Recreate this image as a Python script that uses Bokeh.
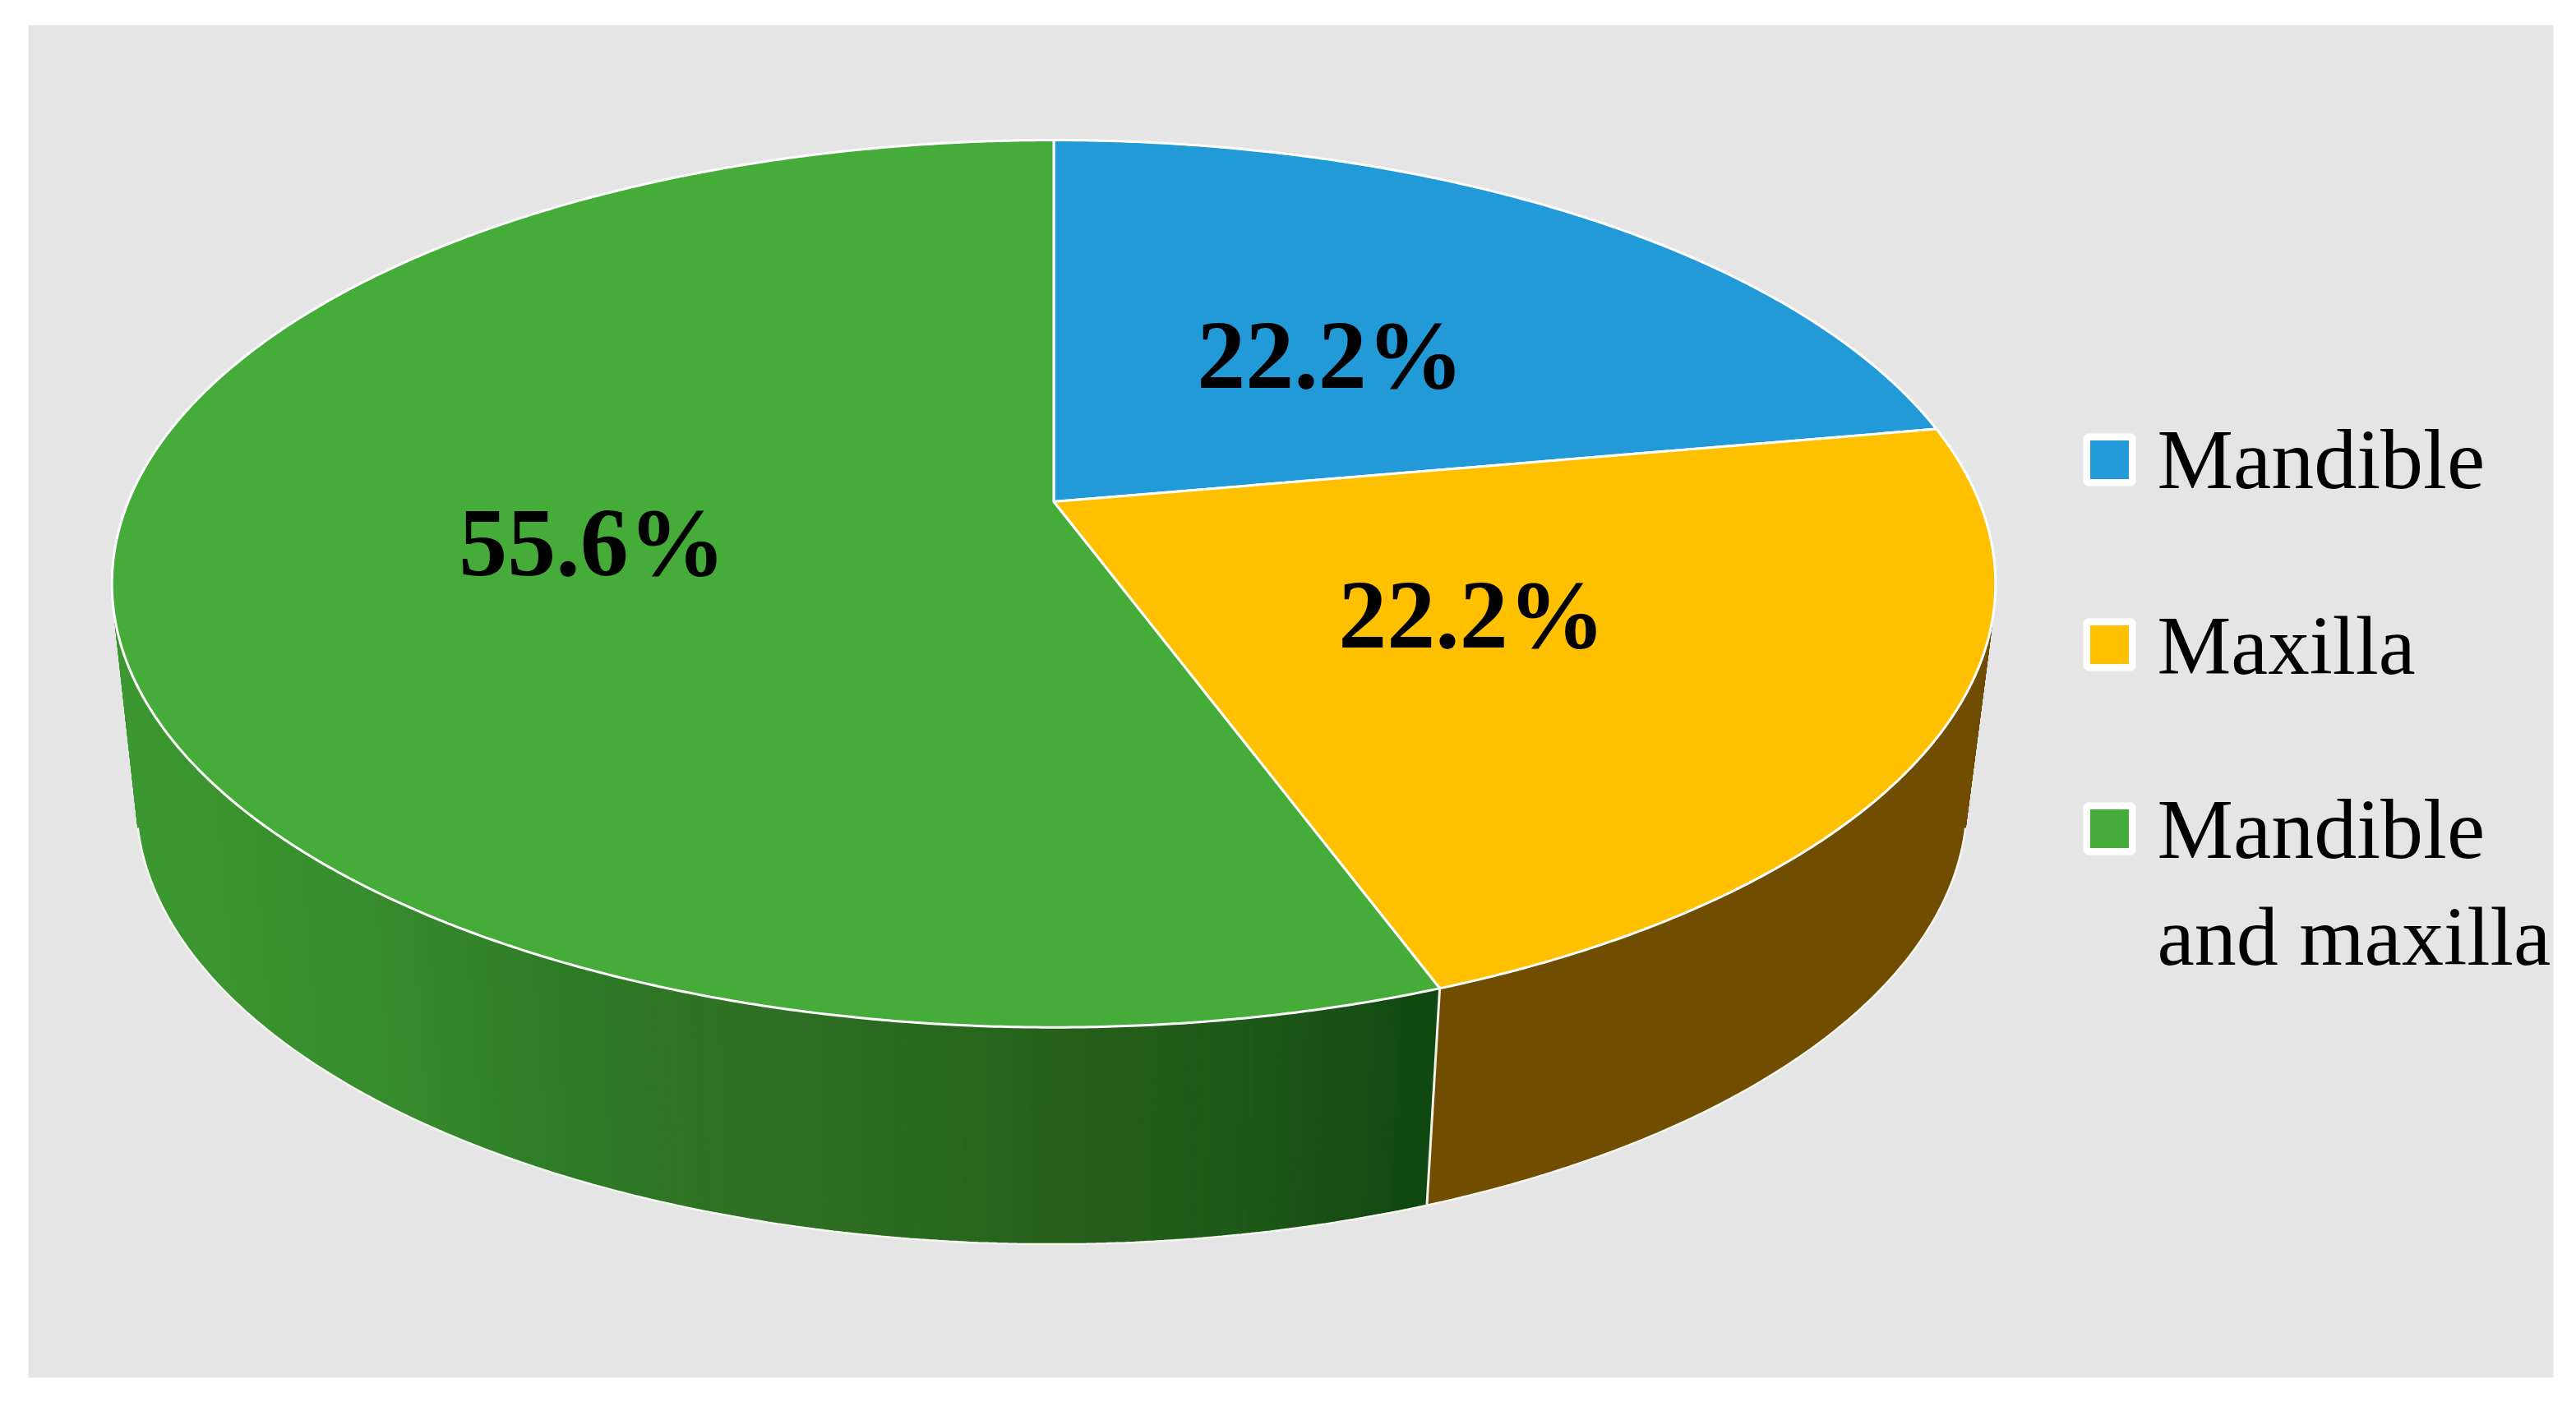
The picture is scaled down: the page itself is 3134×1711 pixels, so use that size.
import numpy as np
from bokeh.plotting import figure
from bokeh.models import Range1d
from bokeh.core.properties import value
from bokeh.embed import file_html
from bokeh.resources import INLINE

categories = ["Mandible", "Maxilla", "Mandible and maxilla"]
values = [22.2, 22.2, 55.6]
labels = ["22.2%", "22.2%", "55.6%"]
top_colors = ["#229ad8", "#ffc000", "#45ac3a"]
side_yellow = "#714d00"
panel = "#e5e5e5"
legend_lines = [["Mandible"], ["Maxilla"], ["Mandible", "and maxilla"]]
# green wall shading, left to right
green_wall_x = [134, 200, 400, 500, 700, 900, 1100, 1300, 1500, 1650, 1735]
green_wall_rgb = [(60, 152, 49), (60, 150, 48), (55, 142, 45), (54, 136, 44), (45, 122, 37), (47, 113, 36),
                  (42, 106, 32), (37, 95, 26), (31, 90, 24), (23, 78, 20), (15, 72, 16)]

# Layout of the tilted pie (reference pixel space)
CX, APEX_Y, EC_Y = 1281.5, 610.0, 710.0
PERSP_C, PERSP_B, PERSP_K = -0.185, 408.5, 1126.0
LOW_CX, LOW_SX, LOW_SY, LOW_CY = 1279.0, 0.972, 0.998, 975.0
VIS_A, VIS_B = np.radians(100.7), np.radians(259.3)
RIM_A, RIM_B = np.radians(104.0), np.radians(256.0)
N = 120


def top_pt(theta):
    s, t = np.sin(theta), -np.cos(theta)
    d = 1 + PERSP_C * t
    return CX + PERSP_K * s / d, (APEX_Y + PERSP_B * t) / d


def low_pt(theta):
    x, y = top_pt(theta)
    return LOW_CX + LOW_SX * (x - CX), LOW_CY + LOW_SY * (y - EC_Y)


p = figure(width=34 + 3072 + 20, height=30 + 1646 + 27, output_backend="svg",
           toolbar_location=None, x_range=Range1d(34, 3106), y_range=Range1d(1676, 30),
           min_border_left=34, min_border_right=20, min_border_top=30, min_border_bottom=27,
           background_fill_color=panel, border_fill_color="white", outline_line_color=None)
p.axis.visible = False
p.grid.visible = False

edges = np.cumsum([0] + values) / sum(values) * 2 * np.pi

# walls
wx, wy, wc = [], [], []
for i in range(3):
    a, b = max(edges[i], VIS_A), min(edges[i + 1], VIS_B)
    if b <= a:
        continue
    th = np.linspace(a, b, 141)
    for u, v in zip(th[:-1], th[1:]):
        x1, y1 = top_pt(u); x2, y2 = top_pt(v)
        x3, y3 = low_pt(v); x4, y4 = low_pt(u)
        wx.append([x1, x2, x3, x4]); wy.append([y1, y2, y3, y4])
        if i == 1:
            wc.append(side_yellow)
        else:
            xm = (x1 + x2) / 2
            rgb = [np.interp(xm, green_wall_x, [c[k] for c in green_wall_rgb]) for k in range(3)]
            wc.append("#%02x%02x%02x" % tuple(int(round(c)) for c in rgb))
p.patches(wx, wy, fill_color=wc, line_color=wc, line_width=1)

# bottom rim and the wall seam
th = np.linspace(RIM_A, RIM_B, 300)
lx, ly = low_pt(th)
p.line(lx, ly, line_color="#f4f6f0", line_width=2.5)
sx1, sy1 = top_pt(edges[2]); sx2, sy2 = low_pt(edges[2])
p.line([sx1, sx2], [sy1, sy2], line_color="#f0f0ea", line_width=3)

# top faces
fx, fy = [], []
for i in range(3):
    th = np.linspace(edges[i], edges[i + 1], max(3, int(N * values[i] / 10)))
    x, y = top_pt(th)
    fx.append([CX] + list(x)); fy.append([APEX_Y] + list(y))
p.patches(fx, fy, fill_color=top_colors, line_color="white", line_width=3, line_join="round")

# data labels
label_x = [1618, 1790, 720]
label_y = [432, 748, 660]
p.text(label_x, label_y, text=labels, text_font=value("Liberation Serif"), text_font_style="bold",
       text_font_size="118px", text_color="black", text_align="center", text_baseline="alphabetic")

# legend
legend_x = 2566
legend_y = [559, 784, 1008]
p.scatter([legend_x] * 3, legend_y, marker="square", size=55.5, fill_color=top_colors,
          line_color="white", line_width=8.5)
baselines = [[558], [785], [1008, 1139]]
line_sizes = [["104px"], ["101px"], ["104px", "102px"]]
tx, ty, tt, ts = [], [], [], []
for lines, bases, sizes in zip(legend_lines, baselines, line_sizes):
    for s, b, z in zip(lines, bases, sizes):
        tx.append(2624); ty.append(b); tt.append(s); ts.append(z)
p.text(tx, ty, text=tt, text_font=value("Liberation Serif"), text_font_size=ts,
       text_color="black", text_align="left", text_baseline="alphabetic")

open("out.html", "w").write(file_html(p, INLINE))
